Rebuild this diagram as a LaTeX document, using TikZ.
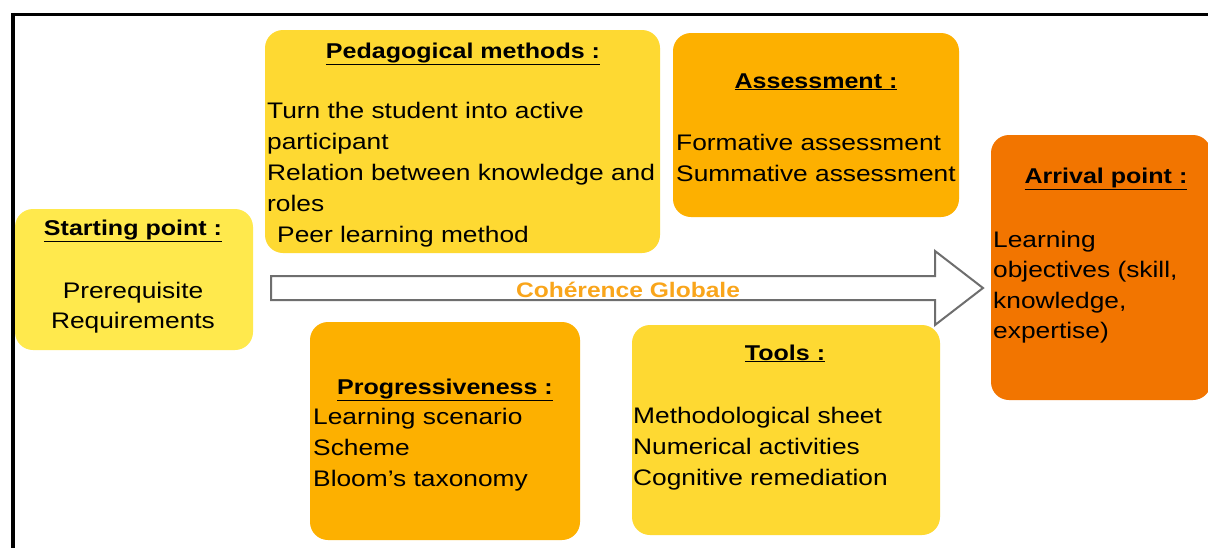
\documentclass[tikz,border=0pt]{standalone}
\usepackage{fontspec}
\setmainfont[FakeStretch=1.17]{Liberation Sans}
\definecolor{cStart}{HTML}{FFE94D}
\definecolor{cGold}{HTML}{FED932}
\definecolor{cAmber}{HTML}{FDB000}
\definecolor{cArr}{HTML}{F27500}
\definecolor{cCoh}{HTML}{F9A51B}
\definecolor{cGray}{HTML}{6E6E6E}
\begin{document}
\begin{tikzpicture}[x=1pt,y=-1pt,
  box/.style={rounded corners=18pt, inner sep=0pt, outer sep=0pt, anchor=north west, draw=none},
  txt/.style={anchor=base west, inner sep=0pt, font=\fontsize{22.5}{31}\selectfont},
  ttl/.style={anchor=base, inner sep=0pt, font=\fontsize{21.4}{30}\selectfont\bfseries},
  ctr/.style={anchor=base, inner sep=0pt, font=\fontsize{22.5}{31}\selectfont}]
\useasboundingbox (0,0) rectangle (1208,547);
\clip (0,0) rectangle (1208,547);
\fill[white] (0,0) rectangle (1208,547);
% frame
\draw[line width=3.5pt] (11,14.5) -- (1210,14.5);
\draw[line width=3.5pt] (13,12.8) -- (13,550);
% boxes
\node[box, fill=cStart, minimum width=238pt, minimum height=141pt] (sp) at (15,209) {};
\node[box, fill=cGold, minimum width=395pt, minimum height=223pt] (pm) at (265,30) {};
\node[box, fill=cAmber, minimum width=286pt, minimum height=184pt] (as) at (673,33) {};
\node[box, fill=cArr, minimum width=220pt, minimum height=265pt] (ap) at (991,135) {};
\node[box, fill=cAmber, minimum width=270pt, minimum height=218pt] (pr) at (310,322) {};
\node[box, fill=cGold, minimum width=308pt, minimum height=210pt] (to) at (632,325) {};
% arrow
\draw[cGray, line width=2pt, fill=white, line join=miter]
  (271,276) -- (935,276) -- (935,251) -- (983,288) -- (935,325) -- (935,300) -- (271,300) -- cycle;
\node[anchor=base, inner sep=0pt, text=cCoh, font=\fontsize{21}{25}\selectfont\bfseries] (coh) at (628,297) {Cohérence Globale};
% starting point
\node[ttl] (spt) at (133,235) {\underline{Starting point :}};
\node[ctr] (sp1) at (133,298) {Prerequisite};
\node[ctr] (sp2) at (133,328) {Requirements};
% pedagogical methods
\node[ttl] (pmt) at (463,58) {\underline{Pedagogical methods :}};
\node[txt] (pm1) at (267,118) {Turn the student into active};
\node[txt] (pm2) at (267,149) {participant};
\node[txt] (pm3) at (267,180) {Relation between knowledge and};
\node[txt] (pm4) at (267,211) {roles};
\node[txt] (pm5) at (277,242) {Peer learning method};
% assessment
\node[ttl] (ast) at (816,88) {\underline{Assessment :}};
\node[txt] (as1) at (676,150) {Formative assessment};
\node[txt] (as2) at (676,181) {Summative assessment};
% arrival point
\node[ttl] (apt) at (1106,183) {\underline{Arrival point :}};
\node[txt] (ap1) at (993,247) {Learning};
\node[txt] (ap2) at (993,277) {objectives (skill,};
\node[txt] (ap3) at (993,308) {knowledge,};
\node[txt] (ap4) at (993,338) {expertise)};
% progressiveness
\node[ttl] (prt) at (445,394) {\underline{Progressiveness :}};
\node[txt] (pr1) at (313,424) {Learning scenario};
\node[txt] (pr2) at (313,455) {Scheme};
\node[txt] (pr3) at (313,486) {Bloom’s taxonomy};
% tools
\node[ttl] (tot) at (785,360) {\underline{Tools :}};
\node[txt] (to1) at (633,423) {Methodological sheet};
\node[txt] (to2) at (633,454) {Numerical activities};
\node[txt] (to3) at (633,485) {Cognitive remediation};
\end{tikzpicture}
\end{document}
